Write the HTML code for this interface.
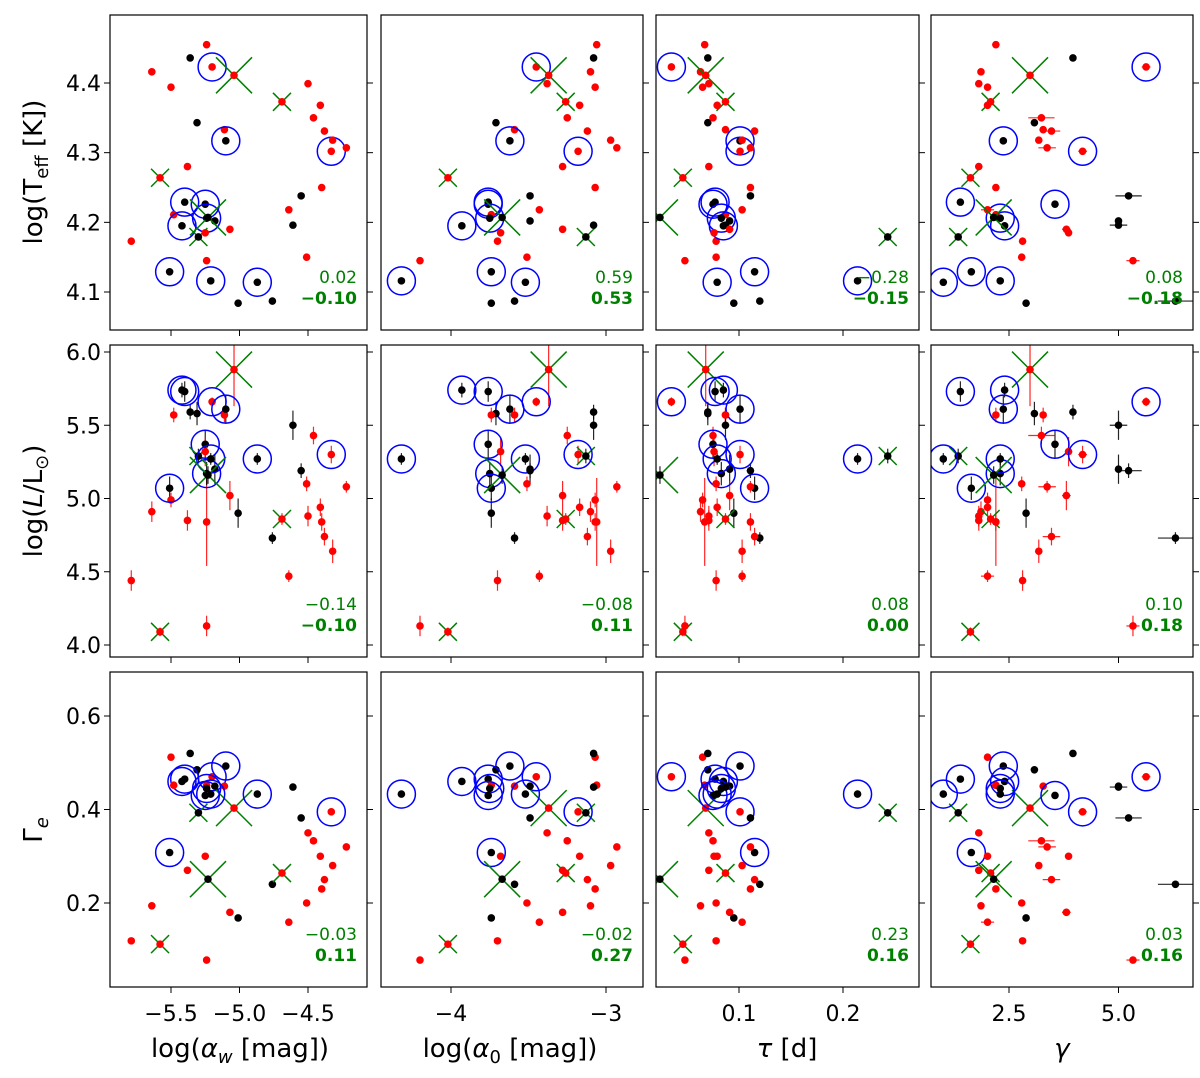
<!DOCTYPE html>
<html><head><meta charset="utf-8"><style>
html,body{margin:0;padding:0;background:#fff}
svg{display:block;font-family:"DejaVu Sans","Liberation Sans",sans-serif}
</style></head><body>
<svg id="fig" width="1200" height="1078" viewBox="0 0 1200 1078" xmlns="http://www.w3.org/2000/svg"></svg>
<script>
// star data
const starType = ['r','r','r','r','r','r','r','b','b','b','r','b','r','b','b','b','b','b','r','r','b','b','b','b','b','r','r','r','r','r','r','r','r','r','b','r','b','b','r','r','r'];
const circled  = [0,0,0,0,1,0,0,1,0,0,0,1,0,1,1,1,0,0,0,0,1,1,1,0,0,0,0,0,0,0,1,0,0,0,0,0,0,0,0,0,0];
const crossSz  = [0,0,0,0,0,2,0,0,0,0,1,0,0,0,0,0,0,1,0,0,0,0,0,0,0,1,0,0,0,0,0,0,0,0,0,0,0,2,0,0,0];
const alphaW = [-5.79,-5.64,-5.50,-5.24,-5.20,-5.04,-5.11,-5.10,-5.36,-5.31,-5.58,-5.40,-5.48,-5.42,-5.25,-5.24,-5.18,-5.30,-5.25,-5.24,-5.51,-5.21,-4.87,-5.01,-4.76,-4.69,-4.50,-4.41,-4.46,-4.38,-4.33,-4.22,-4.32,-4.40,-4.55,-4.64,-4.61,-5.23,-5.38,-5.07,-4.51];
const alpha0 = [-3.70,-3.10,-3.07,-3.06,-3.45,-3.37,-3.59,-3.62,-3.08,-3.71,-4.02,-3.76,-3.74,-3.93,-3.76,-3.75,-3.49,-3.13,-3.68,-4.20,-3.74,-4.32,-3.52,-3.74,-3.59,-3.26,-3.38,-3.17,-3.25,-3.12,-3.18,-2.93,-2.97,-3.07,-3.49,-3.43,-3.08,-3.67,-3.28,-3.28,-3.51];
const tau    = [0.078,0.063,0.065,0.067,0.035,0.068,0.087,0.101,0.070,0.070,0.046,0.077,0.087,0.085,0.075,0.083,0.091,0.243,0.076,0.048,0.115,0.214,0.079,0.095,0.120,0.087,0.071,0.079,0.075,0.115,0.101,0.111,0.103,0.111,0.111,0.103,0.087,0.024,0.071,0.091,0.078];
const gam    = [2.81,1.86,2.01,2.20,5.63,2.98,3.28,2.37,3.96,3.08,1.62,1.39,2.20,2.40,3.55,2.30,5.00,1.34,3.86,5.33,1.64,2.30,1.00,2.89,6.30,2.08,1.81,2.01,3.24,3.47,4.18,3.37,3.18,2.20,5.23,2.01,5.00,2.15,1.81,3.81,2.79];
const gamErr = [0,0,0,0,0.1,0,0,0,0,0,0,0,0,0,0,0,0,0,0,0.15,0,0,0,0,0.4,0,0,0,0.3,0.2,0.1,0.2,0,0,0.3,0.15,0.2,0,0,0.1,0];
const teff   = [4.173,4.416,4.394,4.455,4.423,4.411,4.333,4.317,4.436,4.343,4.264,4.229,4.211,4.195,4.226,4.206,4.202,4.179,4.185,4.145,4.129,4.116,4.114,4.084,4.087,4.373,4.399,4.368,4.350,4.331,4.302,4.307,4.318,4.250,4.238,4.218,4.196,4.207,4.280,4.190,4.150];
const lumL   = [4.44,4.91,4.99,4.84,5.66,5.88,5.57,5.61,5.59,5.58,4.09,5.73,5.57,5.74,5.37,5.17,5.20,5.29,5.32,4.13,5.07,5.27,5.27,4.90,4.73,4.86,4.88,4.94,5.43,4.74,5.30,5.08,4.64,4.84,5.19,4.47,5.50,5.16,4.85,5.02,5.10];
const lumErr = [0.07,0.07,0.05,0.3,0.03,0.25,0.05,0.1,0.05,0.08,0.03,0.07,0.05,0.05,0.1,0.08,0.1,0.05,0.1,0.07,0.08,0.04,0.04,0.1,0.04,0.04,0.07,0.06,0.06,0.06,0.06,0.04,0.08,0.06,0.05,0.04,0.1,0.06,0.07,0.1,0.05];
const gammaE = [0.119,0.194,0.512,0.452,0.470,0.403,0.450,0.493,0.520,0.485,0.112,0.465,0.452,0.460,0.430,0.445,0.450,0.393,0.300,0.078,0.308,0.433,0.433,0.168,0.240,0.264,0.350,0.300,0.333,0.250,0.395,0.320,0.280,0.230,0.382,0.159,0.448,0.251,0.270,0.180,0.200];
// corr labels
const corrTop = ['0.02','0.59','\u22120.28','0.08','\u22120.14','\u22120.08','0.08','0.10','\u22120.03','\u22120.02','0.23','0.03'];
const corrBot = ['\u22120.10','0.53','\u22120.15','\u22120.18','\u22120.10','0.11','0.00','0.18','0.11','0.27','0.16','0.16'];
const xTicks = [[-5.5,-5.0,-4.5],[-4,-3],[0.1,0.2],[2.5,5.0]];
const xTickLbl = [['\u22125.5','\u22125.0','\u22124.5'],['\u22124','\u22123'],['0.1','0.2'],['2.5','5.0']];
const yTicks = [[4.1,4.2,4.3,4.4],[4.0,4.5,5.0,5.5,6.0],[0.2,0.4,0.6]];
const yTickLbl = [['4.1','4.2','4.3','4.4'],['4.0','4.5','5.0','5.5','6.0'],['0.2','0.4','0.6']];

const NS='http://www.w3.org/2000/svg';
const svg=document.getElementById('fig');
function mk(tag,attrs,parent){const e=document.createElementNS(NS,tag);for(const k in attrs)e.setAttribute(k,attrs[k]);(parent||svg).appendChild(e);return e;}
const cols=[{x0:110,x1:367,p:171,v:-5.5,s:137},{x0:381,x1:643,p:451,v:-4,s:155},{x0:656,x1:919,p:739,v:0.1,s:1040},{x0:931,x1:1193,p:1009,v:2.5,s:43.8}];
const rows=[{y0:15,y1:330,p:83,v:4.4,s:696.7},{y0:345,y1:657,p:352,v:6.0,s:146.5},{y0:672,y1:987,p:716,v:0.6,s:467.5}];
const xs=[alphaW,alpha0,tau,gam];
const ys=[teff,lumL,gammaE];
const xN=(c,v)=>cols[c].p+(v-cols[c].v)*cols[c].s;
const yN=(r,v)=>rows[r].p-(v-rows[r].v)*rows[r].s;
const G='#008000';

for(let r=0;r<3;r++){for(let c=0;c<4;c++){
  const C=cols[c],R=rows[r];
  const g=mk('g',{});
  
  
  const cp='cp'+r+c;
  const cpe=mk('clipPath',{id:cp},g);mk('rect',{x:C.x0,y:R.y0,width:C.x1-C.x0,height:R.y1-R.y0},cpe);
  const pg=mk('g',{'clip-path':'url(#'+cp+')'},g);
  const n=starType.length;
  for(let i=0;i<n;i++){
    const px=xN(c,xs[c][i]),py=yN(r,ys[r][i]);const col=starType[i]=='r'?'#ff0000':'#000';
    if(r==1&&lumErr[i]>0){const l=mk('line',{x1:px,x2:px,y1:yN(1,lumL[i]+lumErr[i]),y2:yN(1,lumL[i]-lumErr[i]),stroke:col,'stroke-width':1.2,opacity:0.85},pg);
      }
    if(c==3&&gamErr[i]>0){const l=mk('line',{y1:py,y2:py,x1:xN(3,gam[i]-gamErr[i]),x2:xN(3,gam[i]+gamErr[i]),stroke:col,'stroke-width':1.2,opacity:0.85},pg);
      }
  }
  for(let i=0;i<n;i++){
    const px=xN(c,xs[c][i]),py=yN(r,ys[r][i]);
    if(crossSz[i]){const h=crossSz[i]==2?18:9;
      const p=mk('path',{d:`M${px-h},${py-h}L${px+h},${py+h}M${px-h},${py+h}L${px+h},${py-h}`,stroke:G,'stroke-width':1.5,fill:'none'},pg);
      }
    const d=mk('circle',{cx:px,cy:py,r:3.8,fill:starType[i]=='r'?'#ff0000':'#000'},pg);
    
    
    if(circled[i]){const o=mk('circle',{cx:px,cy:py,r:14,fill:'none',stroke:'#0000ff','stroke-width':1.5},pg);
      }
  }
  const fr=mk('rect',{x:C.x0,y:R.y0,width:C.x1-C.x0,height:R.y1-R.y0,fill:'none',stroke:'#000','stroke-width':1.2},g);
  
  yTicks[r].forEach(v=>{const py=yN(r,v);mk('line',{x1:C.x1,x2:C.x1+6,y1:py,y2:py,stroke:'#000','stroke-width':1},g);
    if(c==0)mk('line',{x1:C.x0,x2:C.x0-6,y1:py,y2:py,stroke:'#000','stroke-width':1},g);});
  if(c==0)yTicks[r].forEach((v,k)=>{const t=mk('text',{x:C.x0-9,y:yN(r,v)+8,'font-size':22,'text-anchor':'end'},g);t.textContent=yTickLbl[r][k];
    });
  xTicks[c].forEach((v,k)=>{const px=xN(c,v);mk('line',{x1:px,x2:px,y1:R.y1,y2:R.y1+6,stroke:'#000','stroke-width':1},g);
    if(r==2){const t=mk('text',{x:px,y:1021,'font-size':22,'text-anchor':'middle'},g);t.textContent=xTickLbl[c][k];
      }});
  const k=r*4+c;
  const t1=mk('text',{x:C.x1-10,y:R.y1-47,'font-size':17,'text-anchor':'end',fill:G},g);t1.textContent=corrTop[k];
  
  const t2=mk('text',{x:C.x1-10,y:R.y1-26,'font-size':17,'font-weight':'bold','text-anchor':'end',fill:G},g);t2.textContent=corrBot[k];
  
}}
</script>
<script>
(function(){
const NS='http://www.w3.org/2000/svg';const svg=document.getElementById('fig');
function tx(html,attrs,name){const t=document.createElementNS(NS,'text');for(const k in attrs)t.setAttribute(k,attrs[k]);t.innerHTML=html;
 
 
 svg.appendChild(t);}
tx('log(T<tspan font-size="18" dy="6">eff</tspan><tspan dy="-6"> [K])</tspan>',{x:0,y:0,'font-size':26,'text-anchor':'middle',transform:'translate(42,172) rotate(-90)'},'y-axis-title-teff');
tx('log(<tspan font-style="italic">L</tspan>/L<tspan font-size="18" dy="6">⊙</tspan><tspan dy="-6">)</tspan>',{x:0,y:0,'font-size':26,'text-anchor':'middle',transform:'translate(42,501) rotate(-90)'},'y-axis-title-lum');
tx('Γ<tspan font-size="18" dy="6" font-style="italic">e</tspan>',{x:0,y:0,'font-size':26,'text-anchor':'middle',transform:'translate(42,830) rotate(-90)'},'y-axis-title-gamma-e');
tx('log(<tspan font-style="italic">α</tspan><tspan font-size="18" dy="6" font-style="italic">w</tspan><tspan dy="-6"> [mag])</tspan>',{x:240,y:1057,'font-size':26,'text-anchor':'middle'},'x-axis-title-alpha-w');
tx('log(<tspan font-style="italic">α</tspan><tspan font-size="18" dy="6">0</tspan><tspan dy="-6"> [mag])</tspan>',{x:510,y:1057,'font-size':26,'text-anchor':'middle'},'x-axis-title-alpha-0');
tx('<tspan font-style="italic">τ</tspan> [d]',{x:787,y:1057,'font-size':26,'text-anchor':'middle'},'x-axis-title-tau');
tx('<tspan font-style="italic">γ</tspan>',{x:1062,y:1057,'font-size':26,'text-anchor':'middle'},'x-axis-title-gamma');
})();
</script>
</body></html>
